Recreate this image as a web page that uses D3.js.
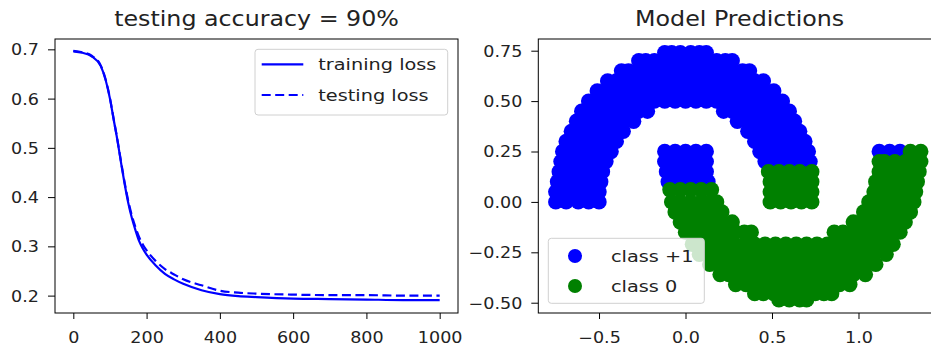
<!DOCTYPE html>
<html>
<head>
<meta charset="utf-8">
<script src="https://cdn.jsdelivr.net/npm/d3@7"></script>
<style>
  html, body { margin: 0; padding: 0; background: #fff; }
  svg text { font-family: "DejaVu Sans", sans-serif; fill: #222; }
</style>
</head>
<body>
<svg id="chart" width="931" height="349"></svg>
<script>
// ---------- Data ----------
const epochs    = [0,25,50,75,100,110,120,130,140,150,160,170,180,190,200,225,250,275,300,350,400,450,500,600,700,800,900,1000];
const trainLoss = [0.696,0.693,0.686,0.666,0.600,0.558,0.517,0.471,0.427,0.388,0.357,0.332,0.310,0.295,0.283,0.261,0.244,0.233,0.224,0.211,0.203,0.199,0.197,0.194,0.193,0.192,0.191,0.191];
const testLoss  = [0.697,0.694,0.687,0.667,0.601,0.559,0.518,0.473,0.430,0.392,0.362,0.338,0.318,0.303,0.292,0.270,0.254,0.243,0.233,0.221,0.210,0.206,0.204,0.202,0.201,0.201,0.200,0.200];
const lossXTicks = [0,200,400,600,800,1000];
const lossYTicks = [0.2,0.3,0.4,0.5,0.6,0.7];
const lossTitle = "testing accuracy = 90%";
const lossLegend = ["training loss", "testing loss"];

// predicted class +1 points: [y, [x values]]
const classPlus1Rows = [
  [0.00, [-0.75,-0.69,-0.62,-0.56,-0.50]],
  [0.05, [-0.75,-0.71,-0.65,-0.59,-0.53,-0.50]],
  [0.10, [-0.74,-0.68,-0.62,-0.56,-0.49]],
  [0.15, [-0.73,-0.66,-0.60,-0.54,-0.48]],
  [0.20, [-0.72,-0.68,-0.63,-0.57,-0.51,-0.46,0.46,0.51,0.57,0.63,0.68,0.72]],
  [0.25, [-0.71,-0.67,-0.61,-0.55,-0.49,-0.43,0.43,0.49,0.55,0.61,0.67,0.71]],
  [0.30, [-0.69,-0.63,-0.57,-0.51,-0.45,-0.40,0.40,0.45,0.51,0.57,0.63,0.69]],
  [0.35, [-0.66,-0.60,-0.54,-0.48,-0.42,-0.36,0.36,0.42,0.48,0.54,0.60,0.66]],
  [0.40, [-0.63,-0.59,-0.54,-0.48,-0.42,-0.36,-0.30,0.30,0.36,0.42,0.48,0.54,0.59,0.63]],
  [0.45, [-0.60,-0.56,-0.51,-0.45,-0.39,-0.33,-0.27,-0.22,0.22,0.27,0.33,0.39,0.45,0.51,0.56,0.60]],
  [0.50, [-0.56,-0.49,-0.42,-0.36,-0.30,-0.24,-0.18,-0.12,-0.06,0,0.06,0.12,0.18,0.24,0.30,0.36,0.42,0.49,0.56]],
  [0.55, [-0.51,-0.45,-0.39,-0.33,-0.27,-0.21,-0.15,-0.09,-0.03,0.03,0.09,0.15,0.21,0.27,0.33,0.39,0.45,0.51]],
  [0.60, [-0.45,-0.40,-0.35,-0.30,-0.24,-0.18,-0.12,-0.06,0,0.06,0.12,0.18,0.24,0.30,0.35,0.40,0.45]],
  [0.65, [-0.37,-0.33,-0.27,-0.21,-0.15,-0.09,-0.03,0.03,0.09,0.15,0.21,0.27,0.33,0.37]],
  [0.70, [-0.27,-0.23,-0.18,-0.12,-0.06,0,0.06,0.12,0.18,0.23,0.27]],
  [0.74, [-0.12,-0.08,-0.03,0.03,0.08,0.12]],
  [0.25, [-0.12,-0.06,0,0.06,0.12,1.12,1.18,1.24]],
  [0.20, [-0.12,-0.09,-0.03,0.03,0.09,0.12]],
  [0.15, [-0.11,-0.06,0,0.06,0.12]],
  [0.10, [-0.10,-0.04,0.02,0.08,0.13]]
];

// predicted class 0 points: [y, [x values]]
const class0Rows = [
  [0.00, [0.49,0.55,0.61,0.67,0.73]],
  [0.05, [0.49,0.53,0.59,0.65,0.70,0.73]],
  [0.10, [0.49,0.55,0.61,0.67,0.73]],
  [0.15, [0.48,0.54,0.60,0.66,0.73]],
  [0.25, [1.30,1.36]],
  [0.20, [1.12,1.15,1.21,1.27,1.33,1.36]],
  [0.15, [1.12,1.18,1.24,1.30,1.35]],
  [0.10, [1.10,1.15,1.21,1.27,1.34]],
  [0.06, [-0.09,-0.03,0.03,0.09,0.15]],
  [0.05, [1.09,1.15,1.21,1.27,1.33]],
  [0.00, [-0.08,-0.03,0.03,0.09,0.14,0.18,1.06,1.11,1.17,1.23,1.28,1.32]],
  [-0.05, [-0.06,0,0.06,0.12,0.17,0.21,1.03,1.08,1.14,1.20,1.25,1.30]],
  [-0.10, [-0.03,0.03,0.09,0.15,0.21,0.27,0.97,1.03,1.09,1.15,1.21,1.27]],
  [-0.15, [0,0.06,0.12,0.18,0.24,0.29,0.34,0.38,0.86,0.91,0.97,1.03,1.09,1.15,1.20,1.24]],
  [-0.21, [0.04,0.10,0.16,0.22,0.28,0.34,0.40,0.46,0.52,0.58,0.64,0.70,0.76,0.82,0.88,0.94,1.00,1.06,1.12,1.16,1.20]],
  [-0.26, [0.08,0.13,0.19,0.25,0.31,0.37,0.43,0.49,0.55,0.61,0.67,0.73,0.79,0.85,0.91,0.97,1.03,1.09,1.16]],
  [-0.31, [0.14,0.20,0.26,0.32,0.38,0.44,0.50,0.56,0.62,0.68,0.74,0.80,0.86,0.92,0.98,1.04,1.10]],
  [-0.36, [0.20,0.25,0.31,0.37,0.43,0.49,0.55,0.61,0.67,0.73,0.79,0.85,0.91,0.97,1.04]],
  [-0.41, [0.29,0.35,0.41,0.47,0.53,0.59,0.65,0.71,0.77,0.83,0.89,0.95]],
  [-0.455, [0.40,0.45,0.51,0.57,0.63,0.69,0.75,0.80,0.845]],
  [-0.485, [0.54,0.60,0.66,0.70]]
];
const scatterXTicks = [-0.5,0.0,0.5,1.0];
const scatterYTicks = [-0.5,-0.25,0,0.25,0.5,0.75];
const scatterTitle = "Model Predictions";
const scatterLegend = ["class +1", "class 0"];

// ---------- Drawing ----------
const svg = d3.select("#chart");
svg.append("rect").attr("width", 931).attr("height", 349).attr("fill", "#fff");
const SX = 1.17; // horizontal text stretch
const minus = s => s.replace("-", "\u2212");

function styleAxes(gx, gy) {
  gx.select(".domain").remove();
  gy.select(".domain").remove();
  gx.attr("color", "#000").selectAll(".tick line").attr("stroke-width", 1);
  gy.attr("color", "#000").selectAll(".tick line").attr("stroke-width", 1);
  gx.selectAll(".tick text").attr("y", null).attr("dy", null)
    .attr("transform", `translate(0,30) scale(${SX},1)`)
    .style("font-size", "15px").attr("fill", "#222");
  gy.selectAll(".tick text").attr("x", null).attr("dy", "0.36em")
    .attr("transform", `translate(-16,0) scale(${SX},1)`)
    .style("font-size", "15px").attr("fill", "#222");
}

// Left plot: loss curves
const L = {x0: 55, x1: 458, y0: 39, y1: 313};
const lx = d3.scaleLinear().domain([-50, 1050]).range([L.x0, L.x1]);
const ly = d3.scaleLinear().domain([0.1647, 0.721]).range([L.y1, L.y0]);

const gLx = svg.append("g").attr("transform", `translate(0,${L.y1})`)
  .call(d3.axisBottom(lx).tickValues(lossXTicks).tickSize(6).tickFormat(d3.format("d")));
const gLy = svg.append("g").attr("transform", `translate(${L.x0},0)`)
  .call(d3.axisLeft(ly).tickValues(lossYTicks).tickSize(7).tickFormat(d3.format(".1f")));
styleAxes(gLx, gLy);

const line = d3.line().x(d => lx(d[0])).y(d => ly(d[1])).curve(d3.curveMonotoneX);
const trainData = epochs.map((e, i) => [e, trainLoss[i]]);
const testData = epochs.map((e, i) => [e, testLoss[i]]);
svg.append("path").datum(trainData).attr("d", line)
  .attr("fill", "none").attr("stroke", "#0000ff").attr("stroke-width", 2.2);
svg.append("path").datum(testData).attr("d", line)
  .attr("fill", "none").attr("stroke", "#0000ff").attr("stroke-width", 2.2)
  .attr("stroke-dasharray", "9,4.5");

svg.append("rect").attr("x", L.x0).attr("y", L.y0)
  .attr("width", L.x1 - L.x0).attr("height", L.y1 - L.y0)
  .attr("fill", "none").attr("stroke", "#000").attr("stroke-width", 1);

svg.append("text").attr("text-anchor", "middle")
  .attr("transform", `translate(${(L.x0 + L.x1) / 2},26) scale(${SX},1)`)
  .style("font-size", "20.3px").text(lossTitle);

// left legend
const lg = svg.append("g");
lg.append("rect").attr("x", 255).attr("y", 49.3).attr("width", 192.7).attr("height", 65.7)
  .attr("rx", 3).attr("fill", "#fff").attr("fill-opacity", 0.8)
  .attr("stroke", "#d0d0d0").attr("stroke-width", 1);
[0, 1].forEach(i => {
  const yy = 64.3 + i * 30.7;
  lg.append("line").attr("x1", 261.7).attr("x2", 303.3).attr("y1", yy).attr("y2", yy)
    .attr("stroke", "#0000ff").attr("stroke-width", 2.2)
    .attr("stroke-dasharray", i === 1 ? "9,4.5" : null);
  lg.append("text").attr("transform", `translate(318.3,${yy + 5.8}) scale(${SX},1)`)
    .style("font-size", "16.5px").text(lossLegend[i]);
});

// Right plot: scatter
const R = {x0: 538.3, x1: 941, y0: 39, y1: 313};
const sx = d3.scaleLinear().domain([-0.851, 1.477]).range([R.x0, R.x1]);
const sy = d3.scaleLinear().domain([-0.551, 0.808]).range([R.y1, R.y0]);

const gRx = svg.append("g").attr("transform", `translate(0,${R.y1})`)
  .call(d3.axisBottom(sx).tickValues(scatterXTicks).tickSize(6).tickFormat(d => minus(d3.format(".1f")(d))));
const gRy = svg.append("g").attr("transform", `translate(${R.x0},0)`)
  .call(d3.axisLeft(sy).tickValues(scatterYTicks).tickSize(7).tickFormat(d => minus(d3.format(".2f")(d))));
styleAxes(gRx, gRy);

const flat = rows => rows.flatMap(([y, xs]) => xs.map(x => [x, y]));
const ptsPlus1 = flat(classPlus1Rows);
const pts0 = flat(class0Rows);
const R_PT = 7.7;
svg.append("g").selectAll("circle").data(ptsPlus1).join("circle")
  .attr("cx", d => sx(d[0])).attr("cy", d => sy(d[1])).attr("r", R_PT).attr("fill", "#0000ff");
svg.append("g").selectAll("circle").data(pts0).join("circle")
  .attr("cx", d => sx(d[0])).attr("cy", d => sy(d[1])).attr("r", R_PT).attr("fill", "#008000");

svg.append("rect").attr("x", R.x0).attr("y", R.y0)
  .attr("width", R.x1 - R.x0).attr("height", R.y1 - R.y0)
  .attr("fill", "none").attr("stroke", "#000").attr("stroke-width", 1);

svg.append("text").attr("text-anchor", "middle")
  .attr("transform", `translate(${(R.x0 + R.x1) / 2},26) scale(${SX},1)`)
  .style("font-size", "20.3px").text(scatterTitle);

// right legend
const rg = svg.append("g");
rg.append("rect").attr("x", 548.3).attr("y", 238.3).attr("width", 156).attr("height", 65)
  .attr("rx", 3).attr("fill", "#fff").attr("fill-opacity", 0.8)
  .attr("stroke", "#d0d0d0").attr("stroke-width", 1);
const legColors = ["#0000ff", "#008000"];
[0, 1].forEach(i => {
  const yy = 256 + i * 30;
  rg.append("circle").attr("cx", 575).attr("cy", yy).attr("r", 7).attr("fill", legColors[i]);
  rg.append("text").attr("transform", `translate(611,${yy + 5.8}) scale(${SX},1)`)
    .style("font-size", "16.5px").text(scatterLegend[i]);
});
</script>
</body>
</html>
